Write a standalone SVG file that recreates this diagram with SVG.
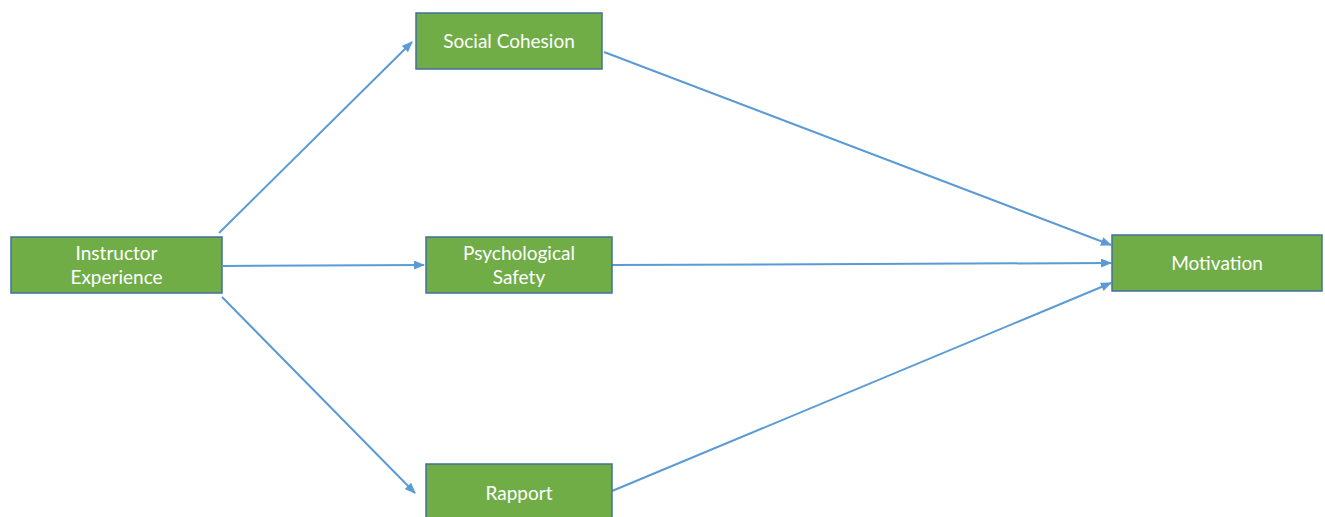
<svg xmlns="http://www.w3.org/2000/svg" width="1325" height="517" viewBox="0 0 1325 517">
<style>
.box{fill:#70AD47;stroke:#41719C;stroke-width:1.5}
.lbl{fill:#FFFFFF;font-family:Lato,"Open Sans",sans-serif;font-size:19px;text-anchor:middle}
.edge{stroke:#5B9BD5;stroke-width:2;fill:none;marker-end:url(#ah)}
</style>
<defs>
<marker id="ah" markerWidth="11" markerHeight="9" refX="10" refY="4.5" orient="auto" markerUnits="userSpaceOnUse">
<path d="M0,0 L11,4.5 L0,9 Z" fill="#5B9BD5"/>
</marker>
</defs>
<rect width="1325" height="517" fill="#FFFFFF"/>
<g id="connectors">
<line class="edge" x1="219" y1="233" x2="412" y2="42"/>
<line class="edge" x1="223" y1="266" x2="424" y2="265"/>
<line class="edge" x1="222" y1="297" x2="415" y2="493"/>
<line class="edge" x1="604" y1="52" x2="1111" y2="245"/>
<line class="edge" x1="612" y1="265" x2="1111" y2="263"/>
<line class="edge" x1="612" y1="491" x2="1111" y2="283"/>
</g>
<g id="instructor">
<rect class="box" x="11" y="237" width="211" height="56"/>
<text class="lbl" x="116.5" y="260">Instructor</text>
<text class="lbl" x="116.5" y="284">Experience</text>
</g>
<g id="social">
<rect class="box" x="416" y="13" width="186" height="56"/>
<text class="lbl" x="509" y="48">Social Cohesion</text>
</g>
<g id="psych">
<rect class="box" x="426" y="237" width="186" height="56"/>
<text class="lbl" x="519" y="260">Psychological</text>
<text class="lbl" x="519" y="284">Safety</text>
</g>
<g id="rapport">
<rect class="box" x="426" y="464" width="186" height="60"/>
<text class="lbl" x="519" y="500">Rapport</text>
</g>
<g id="motivation">
<rect class="box" x="1112" y="235" width="210" height="56"/>
<text class="lbl" x="1217" y="270">Motivation</text>
</g>
</svg>
